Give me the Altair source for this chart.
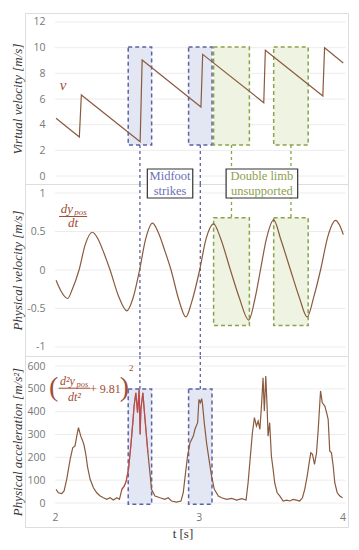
import altair as alt
import pandas as pd

# ---------------- data ----------------
vv_t = [2.007, 2.169, 2.183, 2.592, 2.606, 3.015, 3.027, 3.452, 3.463, 3.863, 3.875, 4.005]
vv_v = [4.5, 3.04, 6.31, 2.67, 9.04, 5.38, 9.48, 5.71, 9.80, 6.24, 10.0, 8.81]

pv_t = [2.007, 2.04, 2.088, 2.12, 2.167, 2.21, 2.26, 2.30, 2.34, 2.383,
        2.44, 2.50, 2.54, 2.588, 2.63, 2.678, 2.72, 2.76, 2.807, 2.86,
        2.91, 2.95, 3.006, 3.05, 3.103, 3.15, 3.22, 3.28, 3.347, 3.39,
        3.429, 3.47, 3.521, 3.57, 3.638, 3.70, 3.754, 3.80, 3.847, 3.90,
        3.951, 3.98, 4.005]
pv_v = [-0.134, -0.27, -0.37, -0.25, 0.0, 0.33, 0.49, 0.40, 0.22, 0.0,
        -0.33, -0.53, -0.38, 0.0, 0.40, 0.61, 0.48, 0.27, 0.0, -0.38,
        -0.61, -0.42, 0.0, 0.40, 0.60, 0.42, 0.0, -0.35, -0.65, -0.38,
        0.0, 0.40, 0.65, 0.40, 0.0, -0.36, -0.61, -0.35, 0.0, 0.45,
        0.645, 0.58, 0.46]

acc_t = [2.007, 2.023, 2.046, 2.063, 2.081, 2.105, 2.123, 2.139, 2.151, 2.163,
         2.179, 2.193, 2.202, 2.216, 2.225, 2.244, 2.267, 2.29, 2.314, 2.337,
         2.36, 2.383, 2.406, 2.43, 2.448, 2.465, 2.481, 2.495, 2.511, 2.527,
         2.541, 2.55, 2.562, 2.574, 2.585, 2.592, 2.597, 2.611, 2.622, 2.634,
         2.646, 2.66, 2.671, 2.695, 2.73, 2.764, 2.787, 2.81, 2.845, 2.876,
         2.892, 2.908, 2.922, 2.939, 2.962, 2.973, 2.992, 3.001, 3.01, 3.02,
         3.026, 3.038, 3.054, 3.071, 3.089, 3.108, 3.136, 3.159, 3.194, 3.229,
         3.264, 3.298, 3.329, 3.343, 3.359, 3.373, 3.387, 3.401, 3.413, 3.425,
         3.436, 3.447, 3.456, 3.466, 3.475, 3.482, 3.493, 3.505, 3.517, 3.528,
         3.545, 3.563, 3.587, 3.61, 3.633, 3.656, 3.679, 3.702, 3.721, 3.737,
         3.754, 3.768, 3.779, 3.791, 3.805, 3.819, 3.831, 3.842, 3.847, 3.859,
         3.877, 3.889, 3.9, 3.911, 3.923, 3.935, 3.946, 3.963, 3.981, 4.0]
acc_v = [60, 45, 41, 53, 104, 191, 242, 250, 293, 330,
         293, 271, 253, 206, 162, 104, 67, 45, 31, 23,
         16, 23, 13, 23, 16, 60, 74, 96, 148, 250,
         352, 425, 483, 396, 498, 300, 410, 483, 396, 308,
         220, 133, 60, 31, 23, 16, 23, 9, 4, 9,
         45, 133, 206, 264, 293, 323, 352, 454, 439, 457,
         432, 352, 264, 191, 118, 60, 31, 23, 16, 20,
         13, 19, 13, 89, 206, 308, 374, 337, 359, 323,
         425, 549, 403, 556, 425, 293, 352, 206, 148, 89,
         45, 31, 9, 13, 9, 16, 13, 9, 23, 60,
         118, 177, 220, 213, 169, 220, 323, 439, 491, 439,
         425, 396, 367, 228, 220, 162, 89, 45, 31, 23]
acc_red_range = [2.465, 2.646]

x_ticks = [2, 3, 4]
top_ticks = [0, 2, 4, 6, 8, 10, 12]
mid_ticks = [-1, -0.5, 0, 0.5, 1]
bot_ticks = [0, 100, 200, 300, 400, 500, 600]

strike_start = [2.509, 2.929]
strike_end = [2.672, 3.092]
unsup_start = [3.103, 3.521]
unsup_end = [3.352, 3.761]

top_box_v = [2.42, 10.05]
mid_box_v = [-0.72, 0.68]
bot_box_v = [-5, 500]

# ---------------- styling ----------------
X_DOM = [1.791, 4.038]
TOP_DOM = [-0.62, 12.70]
MID_DOM = [-1.117, 1.117]
BOT_DOM = [-105, 644]
W = 323
BROWN = "#8a5a3e"
FORM = "#a04e36"
BLUE = "#5d62a3"
BLUE_FILL = "#e3e7f4"
GREEN = "#8aa24a"
GREEN_FILL = "#eef4e1"
GRID = "#ececec"
SERIF = "Liberation Serif"
SANS = "Open Sans"

xs = alt.Scale(domain=X_DOM, nice=False, zero=False)


def yaxis(vals, title):
    return alt.Axis(values=vals, title=title, offset=-30, grid=False, ticks=False,
                    tickSize=0, domain=False, labelPadding=10, labelFont=SANS,
                    labelFontSize=10.5, labelColor="#777", labelExpr="'' + datum.value",
                    titleFont=SERIF, titleFontStyle="italic", titleFontWeight="normal",
                    titleFontSize=13, titleColor="#333", titleX=-38, titleBaseline="middle")


XAXIS_BOT = alt.Axis(values=x_ticks, title=None, offset=-20, grid=False, ticks=False,
                     tickSize=0, domain=False, labelPadding=5, labelFlush=False,
                     labelFont=SANS, labelFontSize=10.5, labelColor="#777")


def panel(y_dom, y_ticks, y_title, layers_fn, height, xaxis=None):
    ys = alt.Scale(domain=y_dom, nice=False, zero=False)
    ya = yaxis(y_ticks, y_title)

    def X(f):
        return alt.X(f, type="quantitative", scale=xs, axis=xaxis)

    def Y(f):
        return alt.Y(f, type="quantitative", scale=ys, axis=ya)

    grid = alt.Chart(pd.DataFrame({"v": y_ticks, "x0": [2.0] * len(y_ticks),
                                   "x1": [4.02] * len(y_ticks)})).mark_rule(
        color=GRID, strokeWidth=1).encode(x=X("x0"), x2="x1", y=Y("v"))
    layers = [grid] + layers_fn(X, Y, y_dom)
    return alt.layer(*layers).properties(width=W, height=height)


def box_layer(X, Y, starts, ends, v, fill, stroke):
    df = pd.DataFrame({"x0": starts, "x1": ends, "y0": [v[0]] * len(starts),
                       "y1": [v[1]] * len(starts)})
    return alt.Chart(df).mark_rect(fill=fill, stroke=stroke, strokeDash=[4, 3],
                                   strokeWidth=1.5).encode(x=X("x0"), x2="x1", y=Y("y0"), y2="y1")


def conn_layer(X, Y, starts, ends, y0, y1, color):
    cx = [(a + b) / 2 for a, b in zip(starts, ends)]
    df = pd.DataFrame({"x": cx, "y0": [y0] * len(cx), "y1": [y1] * len(cx)})
    return alt.Chart(df).mark_rule(color=color, strokeDash=[3, 3], strokeWidth=1.3).encode(
        x=X("x"), y=Y("y0"), y2="y1")


def text_layer(X, Y, xs_, ys_, texts, **kw):
    df = pd.DataFrame({"x": xs_, "y": ys_, "t": texts})
    return alt.Chart(df).mark_text(**kw).encode(x=X("x"), y=Y("y"), text="t:N")


def rule_h(X, Y, x0, x1, y, color):
    df = pd.DataFrame({"x0": [x0], "x1": [x1], "y": [y]})
    return alt.Chart(df).mark_rule(color=color, strokeWidth=1).encode(x=X("x0"), x2="x1", y=Y("y"))


# ---------------- top panel ----------------
def top_layers(X, Y, dom):
    line = alt.Chart(pd.DataFrame({"t": vv_t, "v": vv_v})).mark_line(
        color=BROWN, strokeWidth=1.2).encode(x=X("t"), y=Y("v"))
    return [
        box_layer(X, Y, strike_start, strike_end, top_box_v, BLUE_FILL, BLUE),
        box_layer(X, Y, unsup_start, unsup_end, top_box_v, GREEN_FILL, GREEN),
        conn_layer(X, Y, strike_start, strike_end, top_box_v[0], dom[0], BLUE),
        conn_layer(X, Y, unsup_start, unsup_end, top_box_v[0], dom[0], GREEN),
        line,
        text_layer(X, Y, [2.056], [7.09], ["v"], font=SERIF, fontStyle="italic",
                   fontSize=15, color=FORM),
    ]


# ---------------- middle panel ----------------
def mid_layers(X, Y, dom):
    line = alt.Chart(pd.DataFrame({"t": pv_t, "v": pv_v})).mark_line(
        color=BROWN, strokeWidth=1.2, interpolate="monotone").encode(x=X("t"), y=Y("v"))
    lab_df = pd.DataFrame({"x0": [2.642, 3.19], "x1": [2.958, 3.688],
                           "y0": [0.935, 0.935], "y1": [1.312, 1.312]})
    lab_boxes = alt.Chart(lab_df).mark_rect(fill="white", stroke="#333", strokeWidth=1.2).encode(
        x=X("x0"), x2="x1", y=Y("y0"), y2="y1")
    return [
        box_layer(X, Y, unsup_start, unsup_end, mid_box_v, GREEN_FILL, GREEN),
        conn_layer(X, Y, strike_start, strike_end, dom[1], dom[0], BLUE),
        conn_layer(X, Y, unsup_start, unsup_end, dom[1], mid_box_v[1], GREEN),
        line,
        text_layer(X, Y, [2.125], [0.79], ["dy"], font=SERIF, fontStyle="italic",
                   fontSize=13, color=FORM, align="right", baseline="middle"),
        text_layer(X, Y, [2.133], [0.755], ["pos"], font=SERIF, fontStyle="italic",
                   fontSize=9, color=FORM, align="left", baseline="middle"),
        rule_h(X, Y, 2.028, 2.223, 0.695, FORM),
        text_layer(X, Y, [2.125], [0.604], ["dt"], font=SERIF, fontStyle="italic",
                   fontSize=13, color=FORM, baseline="middle"),
        lab_boxes,
        text_layer(X, Y, [2.80, 2.80], [1.221, 1.026], ["Midfoot", "strikes"], font=SERIF,
                   fontSize=12.5, color="#6b6fb5", baseline="middle"),
        text_layer(X, Y, [3.439, 3.439], [1.221, 1.026], ["Double limb", "unsupported"],
                   font=SERIF, fontSize=12.5, color="#8da04e", baseline="middle"),
    ]


# ---------------- bottom panel ----------------
def bot_layers(X, Y, dom):
    df = pd.DataFrame({"t": acc_t, "v": acc_v})
    line = alt.Chart(df).mark_line(color=BROWN, strokeWidth=1.2).encode(x=X("t"), y=Y("v"))
    red = df[(df.t >= acc_red_range[0]) & (df.t <= acc_red_range[1])]
    red_line = alt.Chart(red).mark_line(color="#d0454f", strokeWidth=1.2, opacity=0.75).encode(
        x=X("t"), y=Y("v"))
    return [
        box_layer(X, Y, strike_start, strike_end, bot_box_v, BLUE_FILL, BLUE),
        conn_layer(X, Y, strike_start, strike_end, dom[1], bot_box_v[1], BLUE),
        line,
        red_line,
        text_layer(X, Y, [1.99], [503], ["("], font=SERIF, fontSize=28, color=FORM,
                   baseline="middle"),
        text_layer(X, Y, [2.138], [536], ["d²y"], font=SERIF, fontStyle="italic",
                   fontSize=12, color=FORM, align="right", baseline="middle"),
        text_layer(X, Y, [2.150], [523], ["pos"], font=SERIF, fontStyle="italic",
                   fontSize=8.5, color=FORM, align="left", baseline="middle"),
        rule_h(X, Y, 2.025, 2.245, 503, FORM),
        text_layer(X, Y, [2.135], [466], ["dt²"], font=SERIF, fontStyle="italic",
                   fontSize=12, color=FORM, baseline="middle"),
        text_layer(X, Y, [2.350], [501], ["+ 9.81"], font=SERIF, fontSize=12, color=FORM,
                   baseline="middle"),
        text_layer(X, Y, [2.482], [503], [")"], font=SERIF, fontSize=28, color=FORM,
                   baseline="middle"),
        text_layer(X, Y, [2.53], [592], ["2"], font=SERIF, fontSize=9, color=FORM,
                   baseline="middle"),
        text_layer(X, Y, [2.89], [-136], ["t [s]"], font=SERIF, fontSize=13, color="#333",
                   baseline="middle"),
    ]


top = panel(TOP_DOM, top_ticks, "Virtual velocity [m/s]", top_layers, 171)
mid = panel(MID_DOM, mid_ticks, "Physical velocity [m/s]", mid_layers, 172)
bot = panel(BOT_DOM, bot_ticks, "Physical acceleration [m/s²]", bot_layers, 171, xaxis=XAXIS_BOT)

chart = alt.vconcat(top, mid, bot, spacing=0, bounds="flush").properties(
    padding={"left": 2, "top": 4, "right": 2, "bottom": 2}
).configure_view(stroke="#555", strokeWidth=1.2).configure(background="white")

chart.save("out.html", embed_options={"renderer": "svg", "actions": False})
